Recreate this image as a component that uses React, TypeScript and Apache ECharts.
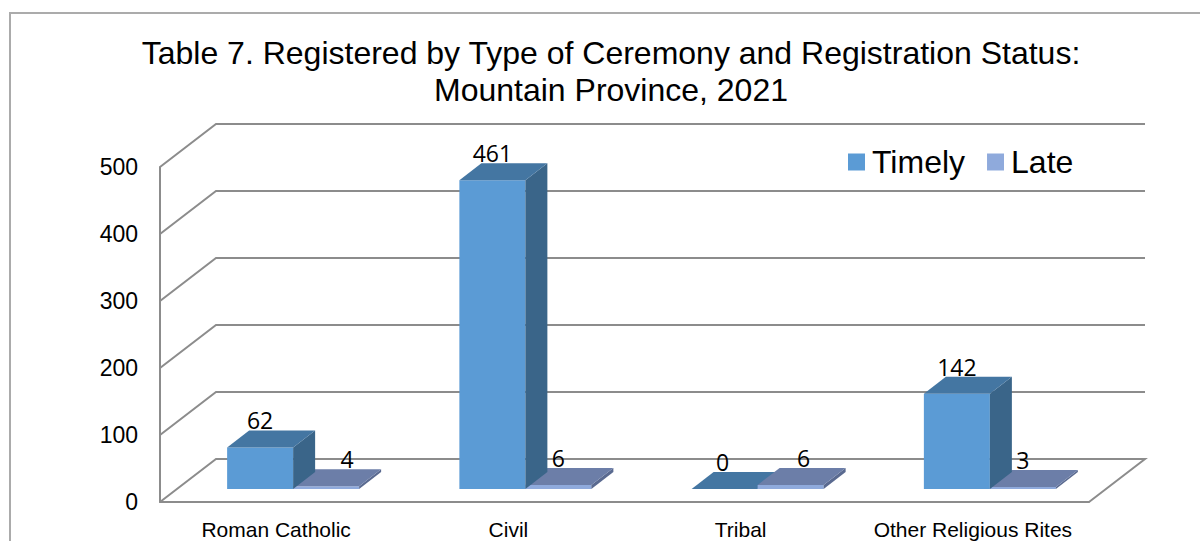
import React, { useEffect, useRef } from "react";
import * as echarts from "echarts";

const titleText = "Table 7. Registered by Type of Ceremony and Registration Status:\nMountain Province, 2021";
const categories = ["Roman Catholic", "Civil", "Tribal", "Other Religious Rites"];
const timely = [62, 461, 0, 142];
const late = [4, 6, 6, 3];
const gridTicks = [0, 100, 200, 300, 400, 500];

// layout of the pseudo-3D drawing (pixels)
const WALL_DX = 56;
const WALL_DY = -43;
const BAR_W = 66;
const BAR_DX = 22;
const BAR_DY = -17;
const BASE_DX = 17;
const BASE_DY = -13;
const LINE = "#8c8c8c";
const LABEL_FONT = "'Open Sans'";
const timelyNudge = [0, 0, -2, 0];
const lateNudge = [21, 0, 13, 0];

const palette = {
  Timely: { front: "#5B9BD5", top: "#4476A2", side: "#3A6589" },
  Late: { front: "#8FAADC", top: "#6C7EA8", side: "#5A6A90" },
};

function barRenderer(
  name: "Timely" | "Late",
  values: number[],
  others: number[],
  nudge: number[],
  slot: number,
) {
  return (params: any, api: any) => {
    const idx = params.dataIndex;
    const value = api.value(1);
    const base = api.coord([idx, 0]);
    const topPt = api.coord([idx, value]);
    const x0 = base[0] + BASE_DX + (slot - 1) * BAR_W;
    const x1 = x0 + BAR_W;
    const yb = base[1] + BASE_DY;
    const yt = topPt[1] + BASE_DY;
    const c = palette[name];
    // the taller bar of a pair hides its neighbour where they meet
    const z2 = name === "Late" ? 1 : values[idx] >= others[idx] ? 2 : 0;
    const children: any[] = [];
    if (value > 0) {
      children.push({
        type: "polygon",
        z2,
        shape: { points: [[x0, yb], [x1, yb], [x1, yt], [x0, yt]] },
        style: { fill: c.front },
      });
      children.push({
        type: "polygon",
        z2,
        shape: { points: [[x1, yb], [x1 + BAR_DX, yb + BAR_DY], [x1 + BAR_DX, yt + BAR_DY], [x1, yt]] },
        style: { fill: c.side },
      });
    }
    children.push({
      type: "polygon",
      z2,
      shape: { points: [[x0, yt], [x1, yt], [x1 + BAR_DX, yt + BAR_DY], [x0 + BAR_DX, yt + BAR_DY]] },
      style: { fill: c.top },
    });
    children.push({
      type: "text",
      z2: 10,
      style: {
        x: x0 + BAR_W / 2 + nudge[idx],
        y: yt - 27,
        text: String(value),
        fill: "#000",
        font: `23px ${LABEL_FONT}`,
        align: "center",
        verticalAlign: "middle",
      },
    });
    return { type: "group", children };
  };
}

function wallRenderer(params: any, api: any) {
  const v = api.value(0);
  const cs = params.coordSys;
  const y = api.coord([0, v])[1];
  const left = cs.x;
  const right = cs.x + cs.width;
  const points: number[][] = [
    [left, y],
    [left + WALL_DX, y + WALL_DY],
    [right + WALL_DX, y + WALL_DY],
  ];
  if (v === 0) points.push([right, y]);
  return {
    type: "polyline",
    shape: { points },
    style: { stroke: LINE, lineWidth: 2, fill: "none" },
  };
}

export default function App() {
  const ref = useRef<HTMLDivElement>(null);

  useEffect(() => {
    if (!ref.current) return;
    const chart = echarts.init(ref.current, null, { renderer: "svg" });
    chart.setOption({
      animation: false,
      backgroundColor: "#fff",
      title: {
        text: titleText,
        left: 606,
        top: 29,
        textAlign: "center",
        textStyle: {
          fontFamily: "'Liberation Sans'",
          fontSize: 32,
          fontWeight: "normal",
          color: "#000",
          lineHeight: 37,
        },
      },
      legend: {
        data: ["Timely", "Late"],
        left: 848,
        top: 146,
        padding: 0,
        icon: "rect",
        itemWidth: 17,
        itemHeight: 17,
        itemGap: 22,
        selectedMode: false,
        textStyle: {
          fontFamily: "'Liberation Sans'",
          fontSize: 32,
          color: "#000",
          padding: [0, 0, 0, 2],
        },
      },
      graphic: [
        {
          type: "polyline",
          shape: { points: [[10, 541], [10, 13], [1200, 13]] },
          style: { stroke: "#ababab", lineWidth: 2, fill: "none" },
          silent: true,
        },
      ],
      grid: { left: 160, right: 111, top: 167, bottom: 39 },
      xAxis: {
        type: "category",
        data: categories,
        axisLine: { show: true, lineStyle: { color: LINE, width: 2 } },
        axisTick: { show: false },
        axisLabel: {
          color: "#000",
          fontFamily: "'Liberation Sans'",
          fontSize: 21,
          margin: 17,
          interval: 0,
        },
      },
      yAxis: {
        type: "value",
        min: 0,
        max: 500,
        interval: 100,
        axisLine: { show: true, lineStyle: { color: LINE, width: 2 } },
        axisTick: { show: false },
        splitLine: { show: false },
        axisLabel: {
          color: "#000",
          fontFamily: "'Liberation Sans'",
          fontSize: 23,
          margin: 22,
        },
      },
      series: [
        {
          name: "wall",
          type: "custom",
          coordinateSystem: "cartesian2d",
          silent: true,
          z: 1,
          data: gridTicks.map((v) => [v]),
          encode: { x: [], y: 0 },
          renderItem: wallRenderer,
        },
        {
          name: "Timely",
          type: "custom",
          coordinateSystem: "cartesian2d",
          z: 3,
          itemStyle: { color: palette.Timely.front },
          data: timely.map((v, i) => [i, v]),
          encode: { x: 0, y: 1 },
          renderItem: barRenderer("Timely", timely, late, timelyNudge, 0),
        },
        {
          name: "Late",
          type: "custom",
          coordinateSystem: "cartesian2d",
          z: 3,
          itemStyle: { color: palette.Late.front },
          data: late.map((v, i) => [i, v]),
          encode: { x: 0, y: 1 },
          renderItem: barRenderer("Late", late, timely, lateNudge, 1),
        },
      ],
    });
    return () => chart.dispose();
  }, []);

  return (
    <div
      ref={ref}
      style={{ position: "fixed", left: 0, top: 0, width: 1200, height: 541 }}
    />
  );
}
